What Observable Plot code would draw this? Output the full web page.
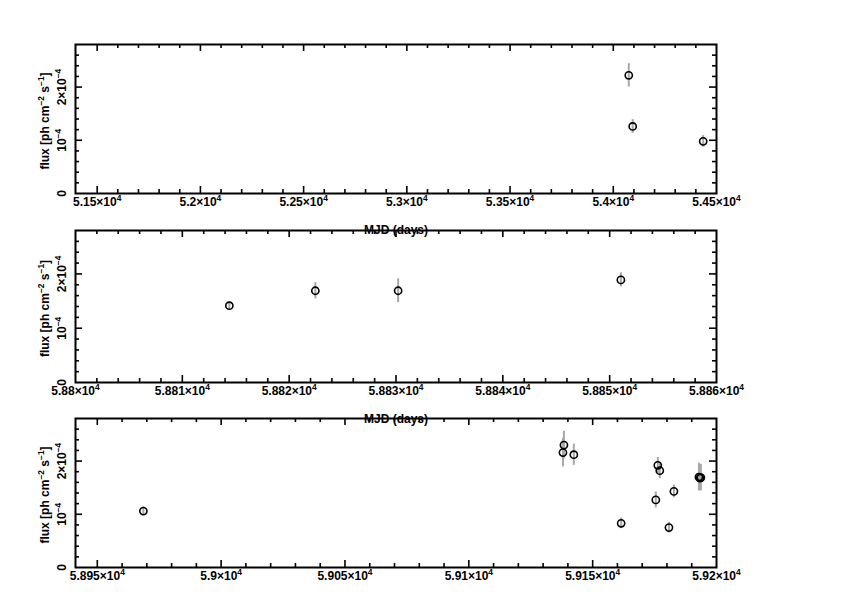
<!DOCTYPE html>
<html>
<head>
<meta charset="utf-8">
<script src="https://cdn.jsdelivr.net/npm/d3@7"></script>
<script src="https://cdn.jsdelivr.net/npm/@observablehq/plot@0.6"></script>
<style>
  html, body { margin: 0; padding: 0; background: white; }
  #chart { position: relative; width: 842px; height: 595px; overflow: hidden; }
  #chart svg { position: absolute; left: 0; top: 0; }
</style>
</head>
<body>
<div id="chart"></div>
<script>
// ---------- data (flux in units of 1e-4 ph cm^-2 s^-1) ----------
const p1MJD  = [54075, 54094, 54435.5];
const p1Flux = [2.22, 1.26, 0.98];
const p1Err  = [0.22, 0.13, 0.11];

const p2MJD  = [58814.4, 58822.45, 58830.2, 58851.05];
const p2Flux = [1.415, 1.69, 1.69, 1.89];
const p2Err  = [0.07, 0.15, 0.22, 0.13];

const p3MJD  = [58968.6, 59138.4, 59138.0, 59142.4, 59161.5, 59176.3, 59177.1, 59175.5, 59182.8, 59180.8, 59192.9, 59193.3, 59193.7];
const p3Flux = [1.06, 2.30, 2.16, 2.12, 0.83, 1.92, 1.82, 1.27, 1.43, 0.75, 1.70, 1.68, 1.69];
const p3Err  = [0.08, 0.26, 0.27, 0.20, 0.10, 0.15, 0.15, 0.15, 0.12, 0.10, 0.26, 0.24, 0.25];

// ---------- ticks ----------
const p1XTicks  = [51500, 52000, 52500, 53000, 53500, 54000, 54500];
const p1XLabels = ["5.15×10⁴", "5.2×10⁴", "5.25×10⁴", "5.3×10⁴", "5.35×10⁴", "5.4×10⁴", "5.45×10⁴"];
const p2XTicks  = [58800, 58810, 58820, 58830, 58840, 58850, 58860];
const p2XLabels = ["5.88×10⁴", "5.881×10⁴", "5.882×10⁴", "5.883×10⁴", "5.884×10⁴", "5.885×10⁴", "5.886×10⁴"];
const p3XTicks  = [58950, 59000, 59050, 59100, 59150, 59200];
const p3XLabels = ["5.895×10⁴", "5.9×10⁴", "5.905×10⁴", "5.91×10⁴", "5.915×10⁴", "5.92×10⁴"];
const yTicks    = [0, 1, 2];
const yLabels   = ["0", "10⁻⁴", "2×10⁻⁴"];
const yMinorStep = 0.2;

const yTitle = "flux [ph cm⁻² s⁻¹]";
const xTitle = "MJD (days)";

const panels = [
  {mjd: p1MJD, flux: p1Flux, err: p1Err, ticks: p1XTicks, labels: p1XLabels, minor: 100,
   domain: [51395, 54500], top: 44, bottom: 193, xTitle: true},
  {mjd: p2MJD, flux: p2Flux, err: p2Err, ticks: p2XTicks, labels: p2XLabels, minor: 2,
   domain: [58800, 58860], top: 230, bottom: 382, xTitle: true},
  {mjd: p3MJD, flux: p3Flux, err: p3Err, ticks: p3XTicks, labels: p3XLabels, minor: 10,
   domain: [58941.2, 59200], top: 418, bottom: 567, xTitle: false}
];

const W = 842, H = 595, LEFT = 75, RIGHT = 716;
const yDomain = [0, 2.8];
const FONT = "'Liberation Sans', Arial, Helvetica, sans-serif";
const FS = 12;
const MAJ = 7, MIN = 4;

const chart = document.getElementById("chart");

// turn unicode superscripts into real raised tspans
function supify(svg) {
  const map = {"⁰":"0","¹":"1","²":"2","³":"3","⁴":"4","⁵":"5","⁶":"6","⁷":"7","⁸":"8","⁹":"9","⁻":"−"};
  const up = (FS * 0.42).toFixed(2);
  svg.querySelectorAll("text").forEach(t => {
    const s = t.textContent;
    if (![...s].some(c => map[c])) return;
    const runs = [];
    for (const c of s) {
      const sup = !!map[c];
      const ch = sup ? map[c] : c;
      if (runs.length && runs[runs.length - 1].sup === sup) runs[runs.length - 1].text += ch;
      else runs.push({sup, text: ch});
    }
    t.textContent = "";
    let shifted = false;
    runs.forEach(r => {
      const ts = document.createElementNS("http://www.w3.org/2000/svg", "tspan");
      ts.textContent = r.text;
      if (r.sup) { ts.setAttribute("dy", -up); ts.setAttribute("font-size", (FS * 0.7).toFixed(2)); shifted = true; }
      else if (shifted) { ts.setAttribute("dy", up); shifted = false; }
      t.appendChild(ts);
    });
  });
}

panels.forEach(p => {
  const rows = p.mjd.map((m, i) => ({mjd: m, flux: p.flux[i], lo: p.flux[i] - p.err[i], hi: p.flux[i] + p.err[i]}));
  const fh = p.bottom - p.top;
  const fw = RIGHT - LEFT;
  const xMinor = d3.range(Math.ceil(p.domain[0] / p.minor) * p.minor, p.domain[1], p.minor)
    .filter(v => v - p.domain[0] > (p.domain[1] - p.domain[0]) * 0.005)
    .filter(v => !p.ticks.some(t => Math.abs(t - v) < p.minor / 2));
  const yMinor = d3.range(yMinorStep, yDomain[1] - 1e-9, yMinorStep)
    .filter(v => !yTicks.some(t => Math.abs(t - v) < 1e-6));
  const xMajorIn = p.ticks.filter(t => t > p.domain[0] + 1e-9 && t < p.domain[1] - 1e-9);
  const yMajorIn = yTicks.filter(t => t > yDomain[0] && t < yDomain[1]);
  const tk = {stroke: "black", strokeWidth: 1.6};
  const xlab = p.ticks.map((t, i) => ({t, s: p.labels[i]}));
  const ylab = yTicks.map((t, i) => ({t, s: yLabels[i]}));
  const txt = {fontWeight: "bold", fontSize: FS, fill: "black"};

  const marks = [
    Plot.tickX(xMajorIn, {x: d => d, insetTop: fh - MAJ, ...tk}),
    Plot.tickX(xMajorIn, {x: d => d, insetBottom: fh - MAJ, ...tk}),
    Plot.tickX(xMinor, {x: d => d, insetTop: fh - MIN, ...tk}),
    Plot.tickX(xMinor, {x: d => d, insetBottom: fh - MIN, ...tk}),
    Plot.tickY(yMajorIn, {y: d => d, insetRight: fw - MAJ, ...tk}),
    Plot.tickY(yMajorIn, {y: d => d, insetLeft: fw - MAJ, ...tk}),
    Plot.tickY(yMinor, {y: d => d, insetRight: fw - MIN, ...tk}),
    Plot.tickY(yMinor, {y: d => d, insetLeft: fw - MIN, ...tk}),
    Plot.frame({stroke: "black", strokeWidth: 2}),
    Plot.text(xlab, {x: "t", text: "s", frameAnchor: "bottom", lineAnchor: "top", dy: 4, ...txt}),
    Plot.text(ylab, {y: "t", text: "s", frameAnchor: "left", rotate: -90, lineAnchor: "middle",
      textAnchor: "middle", dx: -13, ...txt}),
    Plot.text([yTitle], {frameAnchor: "left", rotate: -90, lineAnchor: "middle", textAnchor: "middle",
      dx: -30, dy: 2, ...txt}),
    Plot.ruleX(rows, {x: "mjd", y1: "lo", y2: "hi", stroke: "#a8a8a8", strokeWidth: 2}),
    Plot.dot(rows, {x: "mjd", y: "flux", r: 3.6, stroke: "black", strokeWidth: 1.6, fill: "none"})
  ];
  if (p.xTitle) marks.push(Plot.text([xTitle], {frameAnchor: "bottom", lineAnchor: "top", dy: 32, ...txt}));

  const svg = Plot.plot({
    width: W, height: H,
    marginLeft: LEFT, marginRight: W - RIGHT, marginTop: p.top, marginBottom: H - p.bottom,
    x: {domain: p.domain, axis: null},
    y: {domain: yDomain, axis: null},
    style: {background: "transparent", overflow: "visible", fontFamily: FONT, fontSize: FS + "px", color: "black"},
    marks
  });
  supify(svg);
  chart.appendChild(svg);
});
</script>
</body>
</html>
